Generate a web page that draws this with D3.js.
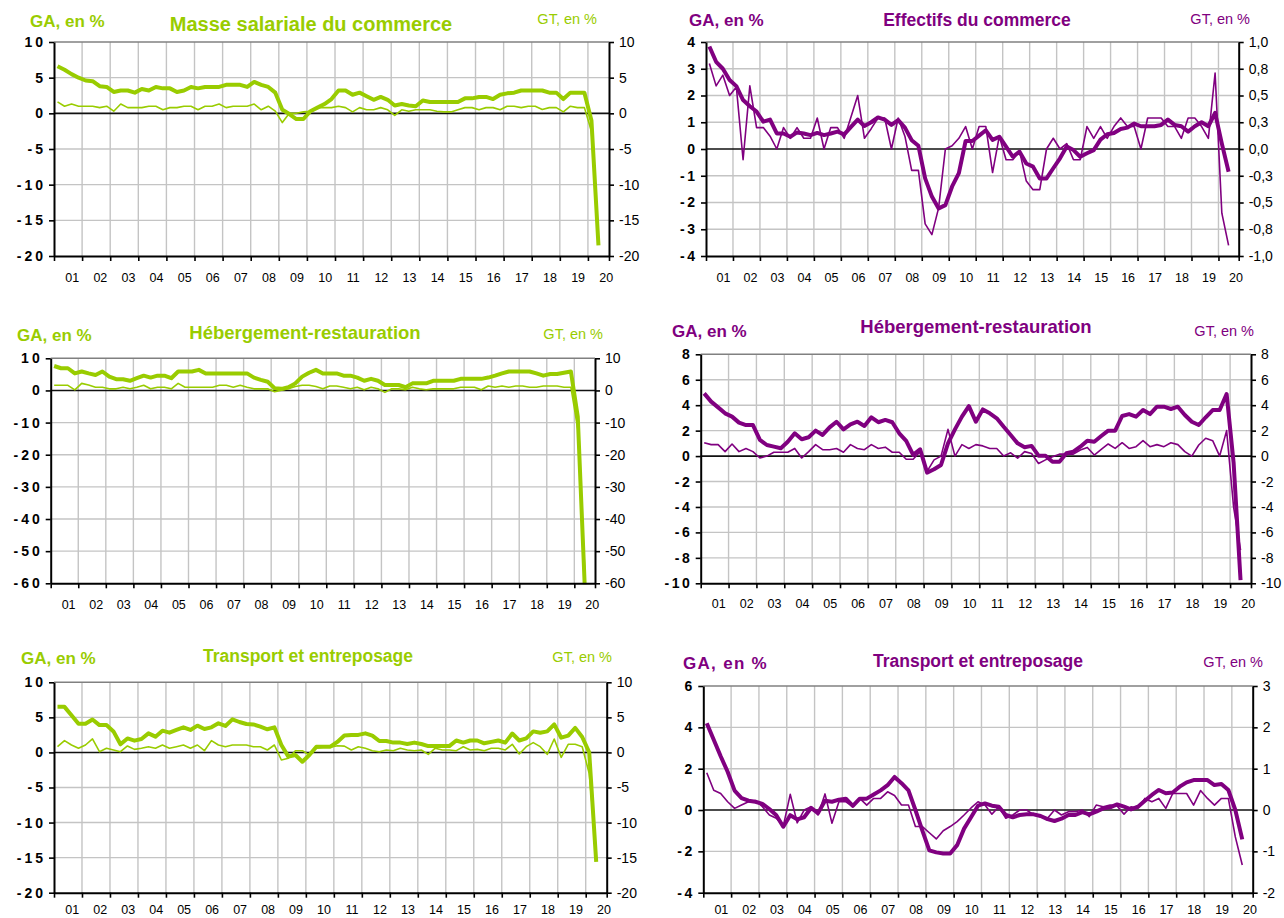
<!DOCTYPE html>
<html><head><meta charset="utf-8">
<script src="https://cdn.jsdelivr.net/npm/d3@7"></script>
<style>
body{margin:0;background:#fff;}
svg{display:block;font-family:"Liberation Sans",Arial,Helvetica,sans-serif;}
</style>
</head><body>
<svg id="chart" width="1284" height="918"></svg>
<script>
// ---------- categories ----------
const yearLabels = ["01","02","03","04","05","06","07","08","09","10","11","12","13","14","15","16","17","18","19","20"];
const nCategories = 79; // 2001T1 ... 2020T3 (data up to 2020T2)

// ---------- data (GA = glissement annuel, GT = glissement trimestriel) ----------
const masseGA = [6.6,6.1,5.5,5.0, 4.6,4.5,3.8,3.7, 3.0,3.2,3.2,2.9, 3.4,3.2,3.7,3.5, 3.5,3.0,3.2,3.7, 3.5,3.7,3.7,3.7, 4.0,4.0,4.0,3.7, 4.4,4.0,3.7,2.9, 0.5,-0.1,-0.8,-0.8, 0.3,0.8,1.3,2.0, 3.2,3.2,2.6,2.9, 2.4,1.9,2.3,1.9, 1.1,1.3,1.1,1.0, 1.8,1.6,1.6,1.6, 1.6,1.6,2.1,2.1, 2.3,2.3,2.0,2.6, 2.8,2.9,3.2,3.2, 3.2,3.2,2.9,2.9, 2.0,2.9,2.9,2.9, -1.0,-18.5];
const masseGT = [1.6,1.0,1.3,1.0, 1.0,1.0,0.8,1.0, 0.3,1.3,0.8,0.8, 0.8,1.0,1.0,0.5, 0.8,0.8,1.0,1.0, 0.5,1.0,1.0,1.3, 0.8,1.0,1.0,1.0, 1.3,0.5,1.0,0.3, -1.3,0.0,0.0,0.2, 0.3,0.8,0.8,0.8, 1.0,0.8,0.2,0.8, 0.5,0.5,0.8,0.5, -0.3,0.5,0.3,0.5, 0.5,0.5,0.3,0.2, 0.2,0.5,0.8,0.8, 0.5,0.8,0.8,0.5, 1.0,1.0,0.8,1.0, 1.0,0.55,0.8,0.8, 0.2,1.0,0.8,0.8, -2.5,-17.5];

const effGA = [3.83,3.26,3.0,2.58, 2.35,1.83,1.6,1.4, 1.02,1.1,0.58,0.58, 0.46,0.62,0.58,0.52, 0.6,0.52,0.58,0.65, 0.55,0.83,1.1,0.86, 1.0,1.18,1.1,0.9, 1.08,0.8,0.33,0.12, -1.1,-1.78,-2.22,-2.1, -1.4,-0.9,0.3,0.3, 0.5,0.7,0.34,0.46, 0.09,-0.29,-0.1,-0.54, -0.66,-1.1,-1.1,-0.72, -0.35,0.09,-0.04,-0.29, -0.16,-0.04,0.35,0.55, 0.6,0.75,0.8,0.95, 0.85,0.85,0.85,0.9, 1.1,0.9,0.85,0.65, 0.85,1.0,0.85,1.35, 0.2,-0.85];
const effGT = [0.8,0.59,0.69,0.5, 0.58,-0.1,0.59,0.2, 0.2,0.12,0.0,0.2, 0.1,0.2,0.1,0.1, 0.29,0.0,0.2,0.2, 0.1,0.3,0.5,0.1, 0.19,0.29,0.29,0.0, 0.29,0.12,-0.2,-0.2, -0.7,-0.8,-0.55,0.0, 0.03,0.1,0.21,0.0, 0.21,0.21,-0.22,0.12, -0.1,-0.1,-0.02,-0.3, -0.38,-0.38,0.0,0.1, 0.0,0.05,-0.1,-0.1, 0.21,0.1,0.21,0.1, 0.21,0.29,0.21,0.21, 0.0,0.29,0.29,0.29, 0.21,0.21,0.1,0.29, 0.29,0.21,0.1,0.71, -0.6,-0.9];

const hebVertGA = [7.6,6.9,6.9,5.3, 5.9,5.3,4.8,5.9, 4.3,3.5,3.5,3.0, 3.8,4.6,4.0,4.6, 4.6,3.8,5.9,5.9, 5.9,6.4,5.3,5.3, 5.3,5.3,5.3,5.3, 5.3,4.0,3.3,2.7, 0.7,0.5,1.0,2.2, 4.3,5.5,6.4,5.3, 5.3,5.3,4.6,4.6, 4.0,3.0,3.6,3.0, 1.7,1.7,1.7,1.0, 2.2,2.2,2.2,3.0, 3.0,3.0,3.0,3.6, 3.6,3.6,3.6,4.0, 4.6,5.3,5.9,5.9, 5.9,5.9,5.3,4.6, 5.1,5.1,5.5,5.9, -8.2,-60.3];
const hebVertGT = [1.6,1.6,1.6,0.2, 2.2,1.7,1.0,1.0, 0.5,0.5,1.0,0.5, 1.0,1.6,0.5,1.0, 1.0,0.5,2.2,1.0, 1.0,1.0,1.0,1.0, 1.6,1.6,1.0,1.6, 1.0,0.5,0.5,0.5, -0.4,0.1,0.5,1.2, 1.6,1.6,1.2,0.5, 1.4,1.4,1.0,0.5, 1.0,0.2,1.0,0.5, -0.6,0.5,0.5,0.2, 1.0,0.5,0.2,0.5, 0.5,0.5,0.5,1.0, 1.0,1.0,0.2,1.4, 1.0,1.4,1.0,1.4, 1.4,1.0,1.0,1.4, 1.4,1.4,1.0,1.0, -12,-55];

const hebViolGA = [4.93,4.28,3.83,3.36, 3.1,2.63,2.44,2.44, 1.27,0.87,0.74,0.61, 1.13,1.79,1.32,1.48, 2.0,1.66,2.26,2.7, 2.1,2.5,2.7,2.37, 3.05,2.66,2.84,2.66, 1.79,1.19,0.09,0.53, -1.3,-1.04,-0.7,1.0, 2.1,3.1,3.93,2.7, 3.67,3.36,2.97,2.3, 1.66,1.0,0.69,0.8, 0.03,0.03,-0.44,-0.44, 0.22,0.35,0.74,1.21, 1.13,1.58,2.0,2.0, 3.15,3.3,3.1,3.62, 3.3,3.88,3.88,3.7, 3.88,3.23,2.7,2.44, 3.05,3.62,3.62,4.88, -0.5,-9.75];
const hebViolGT = [1.05,0.9,0.9,0.35, 0.95,0.35,0.6,0.35, -0.15,0.0,0.3,0.3, 0.3,0.6,-0.15,0.35, 0.9,0.5,0.5,0.6, 0.3,0.9,0.6,0.5, 0.9,0.6,0.7,0.3, 0.3,-0.25,-0.25,0.35, -1.2,-0.3,0.0,2.1, 0.0,0.9,0.6,0.9, 0.8,0.6,0.6,0.0, 0.26,-0.17,0.35,0.2, -0.58,-0.3,-0.05,0.15, 0.15,0.15,0.48,0.68, 0.08,0.52,0.95,0.6, 1.05,0.6,0.74,1.21, 0.74,0.9,0.74,1.05, 0.9,0.35,0.0,0.87, 1.4,1.21,0.0,2.0, -4.0,-7.4];

const transVertGA = [6.5,6.5,5.3,4.1, 4.1,4.7,3.9,3.9, 3.0,1.16,2.0,1.68, 1.92,2.72,2.25,3.1, 2.82,3.2,3.58,3.2, 3.82,3.35,3.58,4.15, 3.77,4.72,4.34,4.06, 4.0,3.67,3.3,3.58, 1.06,-0.6,-0.36,-1.32, -0.36,0.82,0.82,0.82, 1.5,2.4,2.5,2.5, 2.72,2.4,1.63,1.63, 1.4,1.4,1.2,1.4, 1.2,0.9,0.9,0.9, 0.9,1.7,1.4,1.7, 1.7,1.3,1.5,1.7, 1.4,2.7,1.7,2.0, 3.0,2.8,3.0,4.0, 2.1,2.4,3.5,2.2, 0.0,-15.6];
const transVertGT = [0.82,1.68,1.06,0.6, 1.06,1.92,0.1,0.6, 0.35,0.1,0.92,0.44, 0.6,0.82,0.6,1.06, 0.6,0.82,1.06,0.6, 1.06,0.25,1.68,1.06, 0.82,1.06,1.06,1.06, 0.82,0.82,0.35,1.06, -1.08,-0.84,0.25,0.25, -0.36,0.6,0.75,0.75, 0.95,0.9,0.35,0.82, 0.6,0.25,0.1,0.35, 0.25,0.6,0.35,0.25, 0.35,-0.27,0.6,0.35, 0.35,0.25,0.82,0.35, 0.44,0.25,0.6,0.6, 0.35,1.16,-0.22,0.82, 1.4,0.82,-0.27,1.92, -0.7,1.16,1.16,0.82, -3.0,-14.0];

const transViolGA = [4.2,3.4,2.6,1.85, 0.94,0.58,0.45,0.4, 0.3,0.05,-0.25,-0.81, -0.25,-0.45,-0.35,0.1, -0.15,0.45,0.4,0.5, 0.55,0.2,0.55,0.55, 0.75,0.95,1.2,1.6, 1.3,0.95,0.0,-1.0, -1.95,-2.05,-2.1,-2.1, -1.7,-0.9,-0.35,0.21, 0.32,0.21,0.16,-0.24, -0.35,-0.24,-0.21,-0.21, -0.29,-0.44,-0.53,-0.42, -0.24,-0.24,-0.1,-0.21, -0.08,0.08,0.13,0.27, 0.16,0.03,0.16,0.45, 0.73,0.97,0.81,0.85, 1.13,1.34,1.45,1.45, 1.45,1.21,1.26,0.97, 0.0,-1.42];
const transViolGT = [0.9,0.48,0.4,0.2, 0.04,0.12,0.2,0.23, 0.08,-0.12,-0.2,-0.39, 0.38,-0.31,0.0,0.08, -0.12,0.39,-0.32,0.2, 0.2,0.08,0.28,0.12, 0.28,0.28,0.44,0.35, 0.12,0.12,-0.4,-0.4, -0.55,-0.7,-0.5,-0.4, -0.28,-0.12,0.05,0.2, 0.12,-0.1,0.08,-0.2, -0.12,0.0,0.0,-0.12, -0.16,-0.2,0.0,-0.12, -0.04,-0.04,0.0,-0.16, 0.12,0.08,0.12,0.1, -0.1,0.08,0.04,0.28, 0.2,0.28,0.04,0.4, 0.4,0.4,0.12,0.47, 0.28,0.12,0.28,0.28, -0.65,-1.33];

// ---------- tick values and labels ----------
const ticks20 = [-20,-15,-10,-5,0,5,10];
const labels20 = ["-20","-15","-10","-5","0","5","10"];
const ticksEffL = [-4,-3,-2,-1,0,1,2,3,4];
const labelsEffL = ["-4","-3","-2","-1","0","1","2","3","4"];
const ticksEffR = [-1,-0.75,-0.5,-0.25,0,0.25,0.5,0.75,1];
const labelsEffR = ["-1,0","-0,8","-0,5","-0,3","0,0","0,3","0,5","0,8","1,0"];
const ticks60 = [-60,-50,-40,-30,-20,-10,0,10];
const labels60 = ["-60","-50","-40","-30","-20","-10","0","10"];
const ticks10 = [-10,-8,-6,-4,-2,0,2,4,6,8];
const labels10 = ["-10","-8","-6","-4","-2","0","2","4","6","8"];
const ticksTrL = [-4,-2,0,2,4,6];
const labelsTrL = ["-4","-2","0","2","4","6"];
const ticksTrR = [-2,-1,0,1,2,3];
const labelsTrR = ["-2","-1","0","1","2","3"];

// ---------- styles & layout ----------
const GREEN = "#99cc00", PURPLE = "#800080";
const panels = [
  {ga: masseGA, gt: masseGT, color: GREEN, title: "Masse salariale du commerce",
   box: {l: 54, r: 609, t: 42, b: 256}, domL: [-20,10], domR: [-20,10],
   tL: ticks20, lL: labels20, tR: ticks20, lR: labels20, ls: 3,
   gaPos: [30,27], titlePos: [311,31,20], gtPos: [597,24], xLabY: 282},
  {ga: effGA, gt: effGT, color: PURPLE, title: "Effectifs du commerce",
   box: {l: 706, r: 1238.7, t: 42, b: 256}, domL: [-4,4], domR: [-1,1],
   tL: ticksEffL, lL: labelsEffL, tR: ticksEffR, lR: labelsEffR, ls: 2.5,
   gaPos: [689,26], titlePos: [977,26,17.5], gtPos: [1250,24], xLabY: 282},
  {ga: hebVertGA, gt: hebVertGT, color: GREEN, title: "Hébergement-restauration",
   box: {l: 50.7, r: 595, t: 358.3, b: 583.3}, domL: [-60,10], domR: [-60,10],
   tL: ticks60, lL: labels60, tR: ticks60, lR: labels60, ls: 3,
   gaPos: [17,341], titlePos: [305,339,18.5], gtPos: [603,339], xLabY: 609},
  {ga: hebViolGA, gt: hebViolGT, color: PURPLE, title: "Hébergement-restauration",
   box: {l: 700.7, r: 1251, t: 354.3, b: 583.3}, domL: [-10,8], domR: [-10,8],
   tL: ticks10, lL: labels10, tR: ticks10, lR: labels10, ls: 2.5,
   gaPos: [672,337], titlePos: [976,333,18.5], gtPos: [1254,336], xLabY: 608},
  {ga: transVertGA, gt: transVertGT, color: GREEN, title: "Transport et entreposage",
   box: {l: 54, r: 606.7, t: 682.3, b: 892.7}, domL: [-20,10], domR: [-20,10],
   tL: ticks20, lL: labels20, tR: ticks20, lR: labels20, ls: 3,
   gaPos: [21,664], titlePos: [308,662,17.5], gtPos: [612,662], xLabY: 914},
  {ga: transViolGA, gt: transViolGT, color: PURPLE, title: "Transport et entreposage",
   box: {l: 703.3, r: 1252.7, t: 686, b: 892.7}, domL: [-4,6], domR: [-2,3],
   tL: ticksTrL, lL: labelsTrL, tR: ticksTrR, lR: labelsTrR, ls: 2.5,
   gaPos: [683,669], titlePos: [978,667,17.5], gtPos: [1263,667], xLabY: 914, gaSpacing: 1.3}
];

const svg = d3.select("#chart");

panels.forEach(p => {
  const g = svg.append("g");
  const {l, r, t, b} = p.box;
  const x = d3.scaleLinear().domain([0, nCategories]).range([l, r]);
  const yL = d3.scaleLinear().domain(p.domL).range([b, t]);
  const yR = d3.scaleLinear().domain(p.domR).range([b, t]);

  // horizontal gridlines
  g.selectAll(".hg").data(p.tL.filter(v => v !== 0 && v !== p.domL[0] && v !== p.domL[1]))
    .join("line")
    .attr("x1", l).attr("x2", r)
    .attr("y1", d => yL(d)).attr("y2", d => yL(d))
    .attr("stroke", "#c4c4c4").attr("stroke-width", 1.4);
  // vertical gridlines (one per year)
  const yearStarts = d3.range(4, nCategories - 1, 4);
  g.selectAll(".vg").data(yearStarts).join("line")
    .attr("x1", d => x(d)).attr("x2", d => x(d))
    .attr("y1", t).attr("y2", b)
    .attr("stroke", "#c4c4c4").attr("stroke-width", 1.4);
  // top border
  g.append("line").attr("x1", l).attr("x2", r).attr("y1", t).attr("y2", t)
    .attr("stroke", "#808080").attr("stroke-width", 1.6);
  // zero line
  g.append("line").attr("x1", l).attr("x2", r).attr("y1", yL(0)).attr("y2", yL(0))
    .attr("stroke", "#111").attr("stroke-width", 1.6);

  // lines
  const lineR = d3.line().x((d, i) => x(i + 0.5)).y(d => yR(d));
  const lineL = d3.line().x((d, i) => x(i + 0.5)).y(d => yL(d));
  g.append("path").datum(p.gt).attr("d", lineR)
    .attr("fill", "none").attr("stroke", p.color).attr("stroke-width", 1.6)
    .attr("stroke-linejoin", "round");
  g.append("path").datum(p.ga).attr("d", lineL)
    .attr("fill", "none").attr("stroke", p.color).attr("stroke-width", 4)
    .attr("stroke-linejoin", "round");

  // left axis
  const axL = g.append("g").attr("transform", `translate(${l},0)`)
    .call(d3.axisLeft(yL).tickValues(p.tL).tickSizeInner(5).tickSizeOuter(0)
      .tickPadding(6 - p.ls).tickFormat((d, i) => p.lL[i]));
  axL.select(".domain").attr("stroke", "#000").attr("stroke-width", 2);
  axL.selectAll(".tick line").attr("stroke", "#000").attr("stroke-width", 1.6);
  axL.selectAll(".tick text").attr("font-size", 14).attr("font-weight", "bold")
    .attr("fill", "#000").attr("letter-spacing", p.ls)
    .attr("font-family", '"Liberation Sans", Arial, sans-serif');

  // right axis
  const axR = g.append("g").attr("transform", `translate(${r},0)`)
    .call(d3.axisRight(yR).tickValues(p.tR).tickSizeInner(5).tickSizeOuter(0)
      .tickPadding(5).tickFormat((d, i) => p.lR[i]));
  axR.select(".domain").attr("stroke", "#000").attr("stroke-width", 2);
  axR.selectAll(".tick line").attr("stroke", "#000").attr("stroke-width", 1.6);
  axR.selectAll(".tick text").attr("font-size", 14).attr("fill", "#000")
    .attr("font-family", '"Liberation Sans", Arial, sans-serif');

  // bottom axis
  const axB = g.append("g").attr("transform", `translate(0,${b})`)
    .call(d3.axisBottom(x).tickValues(d3.range(0, nCategories, 4).concat([nCategories]))
      .tickSizeInner(5).tickSizeOuter(0).tickFormat(""));
  axB.select(".domain").attr("stroke", "#000").attr("stroke-width", 2);
  axB.selectAll(".tick line").attr("stroke", "#000").attr("stroke-width", 1.6);

  // year labels
  g.selectAll(".xl").data(yearLabels).join("text")
    .attr("x", (d, i) => x(i * 4 + 2.6))
    .attr("y", p.xLabY)
    .attr("text-anchor", "middle")
    .attr("font-size", 12.5).attr("fill", "#000")
    .text(d => d);

  // titles
  g.append("text").attr("x", p.gaPos[0]).attr("y", p.gaPos[1])
    .attr("font-size", 17).attr("font-weight", "bold").attr("fill", p.color)
    .attr("letter-spacing", p.gaSpacing || 0)
    .text("GA, en %");
  g.append("text").attr("x", p.titlePos[0]).attr("y", p.titlePos[1])
    .attr("text-anchor", "middle")
    .attr("font-size", p.titlePos[2]).attr("font-weight", "bold").attr("fill", p.color)
    .text(p.title);
  g.append("text").attr("x", p.gtPos[0]).attr("y", p.gtPos[1])
    .attr("text-anchor", "end")
    .attr("font-size", 14.5).attr("fill", p.color)
    .text("GT, en %");
});
</script>
</body></html>
